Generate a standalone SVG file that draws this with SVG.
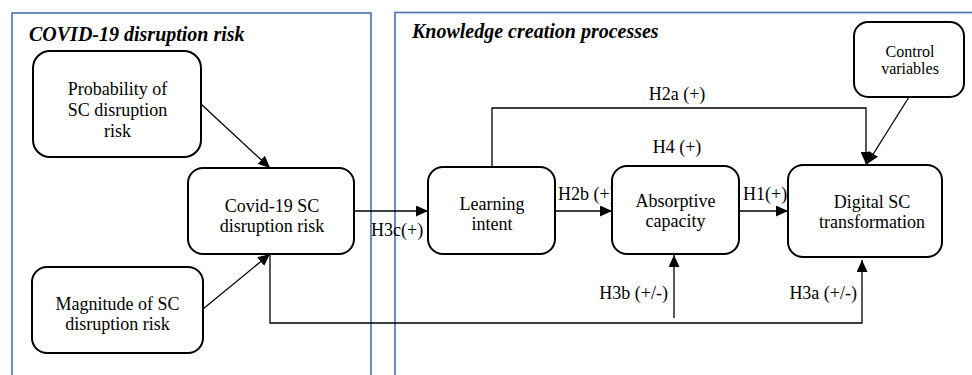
<svg xmlns="http://www.w3.org/2000/svg" width="972" height="375" viewBox="0 0 972 375">
<style>
text{font-family:"Liberation Serif","Times New Roman",Tinos,"DejaVu Serif","Noto Serif",serif}
.panel{fill:none;stroke:#4a6fae;stroke-width:1.6}
.title{font-size:20px;font-weight:bold;font-style:italic;fill:#000}
.box{fill:#fff;stroke:#000;stroke-width:2}
.nt{font-size:18px;fill:#000;text-anchor:middle}
.sm{font-size:16px}
.lbl{font-size:18px;fill:#000}
.c{fill:none;stroke:#000;stroke-width:1.3}
</style>
<defs>
<marker id="ah" markerUnits="userSpaceOnUse" markerWidth="13" markerHeight="11" refX="12" refY="5.5" orient="auto">
<path d="M0,0 L12,5.5 L0,11 z" fill="#000"/>
</marker>
</defs>
<g id="panels">
<rect class="panel" x="12" y="13" width="359" height="400"/>
<rect class="panel" x="395" y="12.5" width="600" height="400"/>
<text class="title" x="29" y="41" font-family="Liberation Serif, serif">COVID-19 disruption risk</text>
<text class="title" x="412" y="38" font-family="Liberation Serif, serif">Knowledge creation processes</text>
</g>
<g id="connectors">
<line class="c" x1="201" y1="104" x2="270" y2="168" marker-end="url(#ah)"/>
<line class="c" x1="203" y1="309" x2="270" y2="254" marker-end="url(#ah)"/>
<line class="c" x1="354" y1="211" x2="428" y2="211" marker-end="url(#ah)"/>
<line class="c" x1="555" y1="211" x2="612" y2="211" marker-end="url(#ah)"/>
<line class="c" x1="739" y1="211" x2="788" y2="211" marker-end="url(#ah)"/>
<polyline class="c" points="492,167 492,108 866,108 866,164" marker-end="url(#ah)"/>
<line class="c" x1="909" y1="97" x2="867" y2="164" marker-end="url(#ah)"/>
<polyline class="c" points="270,254 270,323 862,323 862,260" marker-end="url(#ah)"/>
<line class="c" x1="674" y1="318" x2="674" y2="255" marker-end="url(#ah)"/>
<text class="lbl" x="371" y="236">H3c(+)</text>
<text class="lbl" x="558" y="200">H2b (+)</text>
<text class="lbl" x="743" y="200">H1(+)</text>
<text class="lbl" x="677" y="100" text-anchor="middle">H2a (+)</text>
<text class="lbl" x="677" y="153" text-anchor="middle">H4 (+)</text>
<text class="lbl" x="668" y="299" text-anchor="end">H3b (+/-)</text>
<text class="lbl" x="857" y="299" text-anchor="end">H3a (+/-)</text>
</g>
<g id="prob">
<rect class="box" x="33" y="51" width="168" height="106" rx="17"/>
<text class="nt" x="117.5" y="95">Probability of</text>
<text class="nt" x="117.5" y="116">SC disruption</text>
<text class="nt" x="117.5" y="137">risk</text>
</g>
<g id="covid">
<rect class="box" x="188" y="168" width="166" height="86" rx="15"/>
<text class="nt" x="272" y="212">Covid-19 SC</text>
<text class="nt" x="272" y="232">disruption risk</text>
</g>
<g id="magnitude">
<rect class="box" x="32" y="267" width="171" height="86" rx="15"/>
<text class="nt" x="117.5" y="310">Magnitude of SC</text>
<text class="nt" x="117.5" y="330">disruption risk</text>
</g>
<g id="learning">
<rect class="box" x="428" y="167" width="127" height="87" rx="15"/>
<text class="nt" x="492" y="210">Learning</text>
<text class="nt" x="492" y="230">intent</text>
</g>
<g id="absorptive">
<rect class="box" x="612" y="166" width="127" height="88" rx="15"/>
<text class="nt" x="675.5" y="207">Absorptive</text>
<text class="nt" x="675.5" y="227">capacity</text>
</g>
<g id="digital">
<rect class="box" x="788" y="165" width="154" height="92" rx="15"/>
<text class="nt" x="872" y="208">Digital SC</text>
<text class="nt" x="872" y="228">transformation</text>
</g>
<g id="control">
<rect class="box" x="854" y="22" width="110" height="75" rx="14"/>
<text class="nt sm" x="910" y="57">Control</text>
<text class="nt sm" x="910" y="74">variables</text>
</g>
</svg>
